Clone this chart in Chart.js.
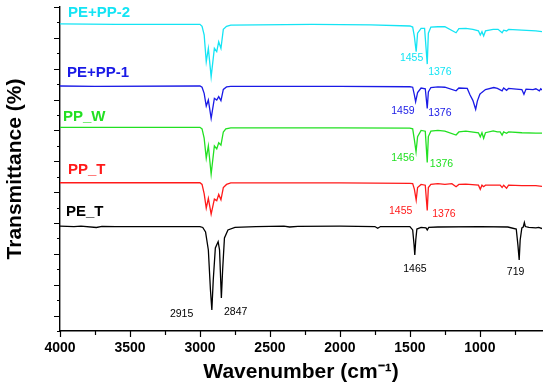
<!DOCTYPE html>
<html>
<head>
<meta charset="utf-8">
<script src="https://cdn.jsdelivr.net/npm/chart.js@4.4.1/dist/chart.umd.min.js"></script>
<style>
  body { margin: 0; background: #fff; }
</style>
</head>
<body>
<canvas id="myChart" width="550" height="392"></canvas>
<script>
// spectra: [wavenumber, transmittance (offset units)]
const peT = [
  [4000, 6.80], [3900, 6.77], [3850, 6.80], [3740, 6.71], [3700, 6.78], [3600, 6.77],
  [3000, 6.77], [2980, 6.71], [2960, 6.42], [2940, 5.25], [2925, 2.66], [2915, 1.36],
  [2905, 3.31], [2890, 5.38], [2870, 5.79], [2860, 5.25], [2847, 2.14], [2838, 3.95],
  [2825, 6.03], [2800, 6.55], [2750, 6.71], [2600, 6.77], [2400, 6.80], [2360, 6.74],
  [2300, 6.78], [2000, 6.80], [1750, 6.77], [1730, 6.66], [1710, 6.77], [1500, 6.77],
  [1480, 6.55], [1470, 5.57], [1465, 4.93], [1458, 5.90], [1450, 6.61], [1420, 6.71],
  [1385, 6.68], [1376, 6.55], [1365, 6.71], [1300, 6.74], [1000, 6.77], [800, 6.74],
  [740, 6.61], [728, 5.57], [719, 4.60], [712, 5.90], [700, 6.68], [690, 6.74],
  [682, 7.03], [675, 6.77], [650, 6.71], [600, 6.68], [580, 6.71], [556, 6.64]
];
const ppT = [
  [4000, 9.61], [3000, 9.61], [2985, 9.50], [2970, 8.90], [2955, 7.97], [2940, 8.60],
  [2920, 7.58], [2897, 8.55], [2880, 8.45], [2866, 8.85], [2850, 8.50], [2833, 9.30],
  [2810, 9.50], [2780, 9.60], [2000, 9.60], [1500, 9.57], [1480, 9.55], [1468, 9.20],
  [1455, 8.49], [1445, 9.30], [1420, 9.50], [1390, 9.45], [1376, 7.81], [1368, 9.30],
  [1350, 9.50], [1300, 9.55], [1250, 9.50], [1200, 9.55], [1170, 9.35], [1150, 9.50],
  [1100, 9.52], [1010, 9.45], [997, 9.18], [985, 9.45], [973, 9.35], [960, 9.45],
  [900, 9.45], [855, 9.45], [841, 9.30], [830, 9.45], [809, 9.25], [795, 9.45],
  [700, 9.42], [600, 9.42], [556, 9.38]
];
const ppW = [
  [4000, 13.20], [3000, 13.20], [2985, 13.10], [2970, 12.50], [2955, 11.20], [2940, 12.00],
  [2920, 10.17], [2897, 12.00], [2880, 11.80], [2866, 12.20], [2850, 12.05], [2833, 12.90],
  [2815, 13.10], [2780, 13.17], [2000, 13.17], [1500, 13.15], [1480, 13.10], [1468, 12.40],
  [1456, 11.62], [1445, 12.60], [1420, 13.00], [1390, 12.95], [1376, 10.93], [1368, 12.60],
  [1350, 12.95], [1300, 13.00], [1250, 12.95], [1170, 12.70], [1150, 12.90], [1100, 12.95],
  [1010, 12.85], [997, 12.59], [985, 12.85], [973, 12.49], [960, 12.85], [905, 12.97],
  [875, 12.90], [855, 12.90], [841, 12.70], [830, 12.90], [809, 12.81], [795, 12.90],
  [700, 12.85], [600, 12.83], [556, 12.83]
];
const pePp1 = [
  [4000, 15.88], [3750, 15.85], [3000, 15.88], [2985, 15.80], [2970, 15.40], [2955, 14.58],
  [2940, 14.97], [2920, 13.79], [2897, 15.08], [2880, 14.97], [2866, 15.19], [2850, 14.93],
  [2833, 15.66], [2810, 15.82], [2780, 15.85], [2000, 15.85], [1500, 15.83], [1480, 15.80],
  [1468, 15.30], [1459, 14.86], [1445, 15.45], [1420, 15.75], [1390, 15.70], [1376, 14.43],
  [1368, 15.50], [1350, 15.78], [1300, 15.82], [1250, 15.80], [1170, 15.57], [1150, 15.75],
  [1090, 15.72], [1070, 15.30], [1050, 14.95], [1030, 14.37], [1018, 14.90], [1000, 15.35],
  [988, 15.45], [960, 15.65], [900, 15.78], [875, 15.72], [841, 15.57], [830, 15.75],
  [809, 15.60], [795, 15.72], [740, 15.68], [700, 15.65], [685, 15.34], [670, 15.68],
  [620, 15.65], [600, 15.70], [575, 15.57], [565, 15.70], [556, 15.62]
];
const pePp2 = [
  [4000, 19.90], [3600, 19.88], [3000, 19.88], [2985, 19.75], [2970, 19.20], [2955, 17.45],
  [2940, 18.32], [2920, 16.48], [2897, 18.32], [2880, 18.10], [2866, 18.75], [2850, 18.32],
  [2833, 19.55], [2810, 19.75], [2780, 19.82], [2200, 19.88], [1780, 19.84], [1500, 19.77],
  [1480, 19.70], [1468, 19.10], [1455, 18.10], [1445, 19.30], [1420, 19.62], [1395, 19.62],
  [1376, 17.30], [1368, 19.30], [1350, 19.70], [1300, 19.72], [1250, 19.72], [1170, 19.33],
  [1150, 19.60], [1100, 19.62], [1050, 19.55], [1010, 19.45], [997, 19.18], [985, 19.40],
  [973, 19.12], [960, 19.45], [905, 19.55], [870, 19.55], [841, 19.33], [830, 19.50],
  [809, 19.45], [795, 19.55], [700, 19.50], [600, 19.45], [556, 19.40]
];

const seriesNames = ['PE_T', 'PP_T', 'PP_W', 'PE+PP-1', 'PE+PP-2'];
const seriesColors = ['#000000', '#ff1a1a', '#22e022', '#1a1ae6', '#14e4f4'];
const seriesData = [peT, ppT, ppW, pePp1, pePp2];
// where each name sits: [wavenumber, level]
const nameWave = [3957, 3943, 3979, 3950, 3943];
const nameLevel = [7.73, 10.43, 13.87, 16.74, 20.59];

// peak labels
const peakText = ['2915', '2847', '1465', '719', '1455', '1376', '1456', '1376', '1459', '1376', '1455', '1376'];
const peakSeries = [0, 0, 0, 0, 1, 1, 2, 2, 3, 3, 4, 4];
const peakWave = [3131, 2745, 1464, 745, 1566, 1257, 1550, 1274, 1550, 1286, 1488, 1286];
const peakLevel = [1.10, 1.21, 4.00, 3.84, 7.80, 7.58, 11.23, 10.82, 14.26, 14.11, 17.71, 16.81];

// axis ticks (x every 250, labelled every 500)
const xTicks = [4000, 3750, 3500, 3250, 3000, 2750, 2500, 2250, 2000, 1750, 1500, 1250, 1000, 750];
const xLabelled = [4000, 3500, 3000, 2500, 2000, 1500, 1000];

const fontFam = "'Liberation Sans', Arial, sans-serif";
Chart.defaults.font.family = fontFam;

const decor = {
  id: 'decor',
  afterDraw(chart) {
    const c = chart.ctx;
    const xs = chart.scales.x, ys = chart.scales.y;
    const area = chart.chartArea;
    c.save();
    c.strokeStyle = '#000';
    c.lineWidth = 1.2;
    c.beginPath();
    ys.ticks.forEach(t => {
      const py = Math.round(ys.getPixelForValue(t.value)) + 0.5;
      const len = t.value % 2 === 1 ? 6 : 3;
      c.moveTo(area.left - len, py);
      c.lineTo(area.left, py);
    });
    xs.ticks.forEach(t => {
      const px = Math.round(xs.getPixelForValue(t.value)) + 0.5;
      const len = xLabelled.includes(t.value) ? 6 : 4;
      c.moveTo(px, area.bottom);
      c.lineTo(px, area.bottom + len);
    });
    c.stroke();

    c.textBaseline = 'middle';
    c.textAlign = 'left';
    c.font = 'bold 15px ' + fontFam;
    seriesNames.forEach((n, i) => {
      c.fillStyle = seriesColors[i];
      c.fillText(n, xs.getPixelForValue(nameWave[i]), ys.getPixelForValue(nameLevel[i]));
    });

    c.textAlign = 'center';
    c.font = '10.5px ' + fontFam;
    peakText.forEach((p, i) => {
      c.fillStyle = seriesColors[peakSeries[i]];
      c.fillText(p, xs.getPixelForValue(peakWave[i]), ys.getPixelForValue(peakLevel[i]));
    });
    c.restore();
  }
};

function genChart() {
  var ctx = document.getElementById('myChart').getContext('2d');
  var myChart = new Chart(ctx, {
    type: 'line',
    data: {
      datasets: seriesData.map((d, i) => ({
        label: seriesNames[i],
        data: d.map(p => ({ x: p[0], y: p[1] })),
        borderColor: seriesColors[i],
        borderWidth: 1.3,
        pointRadius: 0,
        tension: 0,
        fill: false
      }))
    },
    options: {
      responsive: false,
      animation: false,
      layout: { padding: { top: 7, right: 8, left: 0, bottom: 0 } },
      plugins: { legend: { display: false }, tooltip: { enabled: false } },
      scales: {
        x: {
          type: 'linear',
          reverse: true,
          min: 556,
          max: 4000,
          afterBuildTicks: s => { s.ticks = xTicks.map(v => ({ value: v })); },
          ticks: {
            autoSkip: false,
            maxRotation: 0,
            padding: 3,
            color: '#000',
            font: { size: 14, weight: 'bold' },
            callback: v => (xLabelled.includes(v) ? String(v) : '')
          },
          grid: { display: true, drawOnChartArea: false, tickLength: 6, color: 'transparent', tickColor: 'transparent' },
          border: { display: true, color: '#000', width: 1.4 },
          title: {
            display: true,
            text: 'Wavenumber (cm\u207B\u00B9)',
            color: '#000',
            font: { size: 21, weight: 'bold' },
            padding: { top: 0, bottom: 7 }
          },
          afterFit: s => { s.height = 61; }
        },
        y: {
          min: 0,
          max: 21,
          ticks: { display: false, stepSize: 1 },
          grid: { display: true, drawOnChartArea: false, tickLength: 6, color: 'transparent', tickColor: 'transparent' },
          border: { display: true, color: '#000', width: 1.4 },
          title: {
            display: true,
            text: 'Transmittance (%)',
            color: '#000',
            font: { size: 21, weight: 'bold' },
            padding: { top: 3, bottom: 0 }
          },
          afterFit: s => { s.width = 60; }
        }
      }
    },
    plugins: [decor]
  });
}

genChart();
</script>
</body>
</html>
